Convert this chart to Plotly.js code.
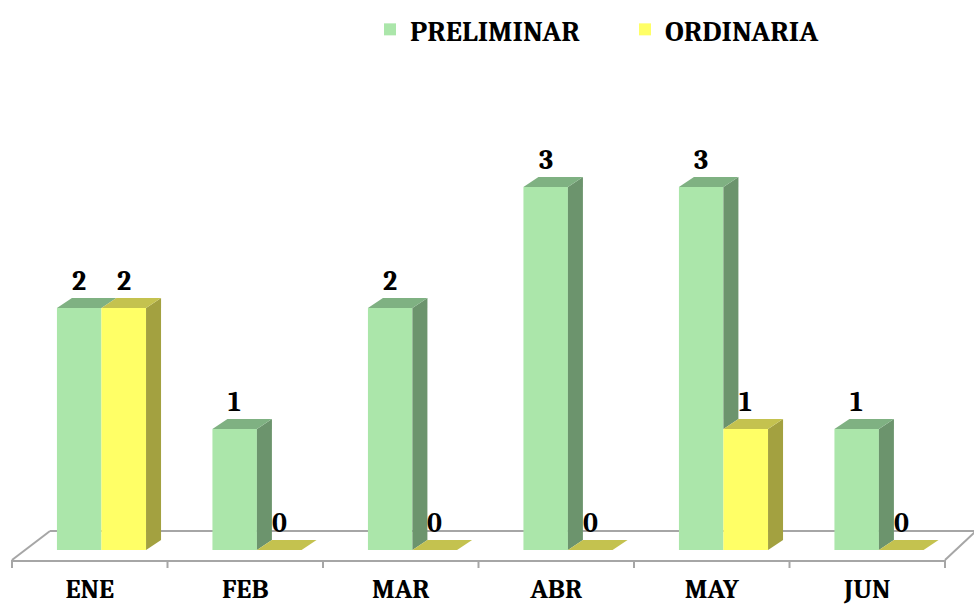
<!DOCTYPE html>
<html>
<head>
<meta charset="utf-8">
<script src="https://cdn.plot.ly/plotly-3.0.1.min.js"></script>
<style>html,body{margin:0;padding:0;background:#fff;}#chart{width:974px;height:607px;}</style>
</head>
<body>
<div id="chart"></div>
<script>
var categories = ['ENE', 'FEB', 'MAR', 'ABR', 'MAY', 'JUN'];
var preliminar = [2, 1, 2, 3, 3, 1];
var ordinaria = [2, 0, 0, 0, 1, 0];
var seriesNames = ['PRELIMINAR', 'ORDINARIA'];

var FONT = "Cambria, 'Liberation Serif', 'DejaVu Serif', serif";
var W = 974, H = 607;
var M = {l: 12, r: 29, t: 60, b: 47};
var plotW = W - M.l - M.r, plotH = H - M.t - M.b;
var yMin = -0.0826, yMax = 4.0496;
var pxPerUnitX = plotW / 6, pxPerUnitY = plotH / (yMax - yMin);
var depthX = 15 / pxPerUnitX, depthY = 10 / pxPerUnitY;

var series = [
  {name: seriesNames[0], values: preliminar, offset: -0.211, width: 0.286,
   front: '#ABE6AA', top: '#7FB182', side: '#6C946D'},
  {name: seriesNames[1], values: ordinaria, offset: 0.075, width: 0.287,
   front: '#FFFF66', top: '#C4C24F', side: '#A3A140'}
];
var xs = categories.map(function (c, i) { return i; });

var traces = series.map(function (s) {
  return {
    type: 'bar', name: s.name, x: xs, y: s.values,
    offset: s.offset, width: s.width,
    marker: {color: s.front, line: {width: 0}},
    hoverinfo: 'skip'
  };
});

var shapes = [];
var annotations = [];
series.forEach(function (s, si) {
  var next = series[si + 1];
  s.values.forEach(function (v, i) {
    var x0 = i + s.offset, x1 = x0 + s.width;
    var base = next ? next.values[i] : 0;
    if (v > base || (!next && v > 0)) {
      shapes.push({type: 'path', xref: 'x', yref: 'y', layer: 'above',
        path: 'M' + x1 + ',' + base + ' L' + (x1 + depthX) + ',' + (base + depthY) +
              ' L' + (x1 + depthX) + ',' + (v + depthY) + ' L' + x1 + ',' + v + ' Z',
        fillcolor: s.side, line: {width: 0}});
    }
    shapes.push({type: 'path', xref: 'x', yref: 'y', layer: 'above',
      path: 'M' + x0 + ',' + v + ' L' + (x0 + depthX) + ',' + (v + depthY) +
            ' L' + (x1 + depthX) + ',' + (v + depthY) + ' L' + x1 + ',' + v + ' Z',
      fillcolor: s.top, line: {width: 0}});
    annotations.push({x: x0 + s.width / 2, y: v, xref: 'x', yref: 'y',
      text: String(v), showarrow: false, yshift: 27, yanchor: 'middle',
      font: {family: FONT, size: 28, color: '#000', weight: 'bold'}});
  });
});

function px2paperX(p) { return (p - M.l) / plotW; }
function py2paperY(p) { return (H - M.b - p) / plotH; }
var floorCol = '#A6A6A6';
shapes.push({type: 'line', xref: 'paper', yref: 'paper', layer: 'below',
  x0: px2paperX(12), y0: py2paperY(560), x1: px2paperX(50), y1: py2paperY(531),
  line: {color: floorCol, width: 2}});
shapes.push({type: 'line', xref: 'paper', yref: 'paper', layer: 'below',
  x0: px2paperX(50), y0: py2paperY(531), x1: px2paperX(975), y1: py2paperY(531),
  line: {color: floorCol, width: 2}});
shapes.push({type: 'line', xref: 'paper', yref: 'paper', layer: 'below',
  x0: px2paperX(945), y0: py2paperY(560), x1: px2paperX(975), y1: py2paperY(532),
  line: {color: floorCol, width: 2}});
for (var k = 0; k <= categories.length; k++) {
  shapes.push({type: 'line', xref: 'paper', yref: 'paper', layer: 'below',
    x0: k / categories.length, x1: k / categories.length,
    y0: py2paperY(560), y1: py2paperY(568),
    line: {color: floorCol, width: 2}});
}

var layout = {
  width: W, height: H, margin: M,
  paper_bgcolor: '#fff', plot_bgcolor: 'rgba(0,0,0,0)',
  showlegend: true,
  barmode: 'overlay',
  xaxis: {range: [-0.5, 5.5], tickmode: 'array', tickvals: xs, ticktext: categories,
    showgrid: false, zeroline: false, showline: true, linecolor: floorCol, linewidth: 2,
    ticks: '', ticklabelstandoff: 4,
    tickfont: {family: FONT, size: 27, color: '#000', weight: 'bold'}},
  yaxis: {range: [yMin, yMax], visible: false, showgrid: false, zeroline: false},
  legend: {orientation: 'h', xref: 'container', yref: 'container',
    x: 370 / W, y: 1 - 4 / H, xanchor: 'left', yanchor: 'top',
    entrywidth: 210, entrywidthmode: 'pixels', itemwidth: 30,
    font: {family: FONT, size: 29, color: '#000', weight: 'bold'}},
  shapes: shapes,
  annotations: annotations
};

Plotly.newPlot('chart', traces, layout, {staticPlot: true, displayModeBar: false});
</script>
</body>
</html>
